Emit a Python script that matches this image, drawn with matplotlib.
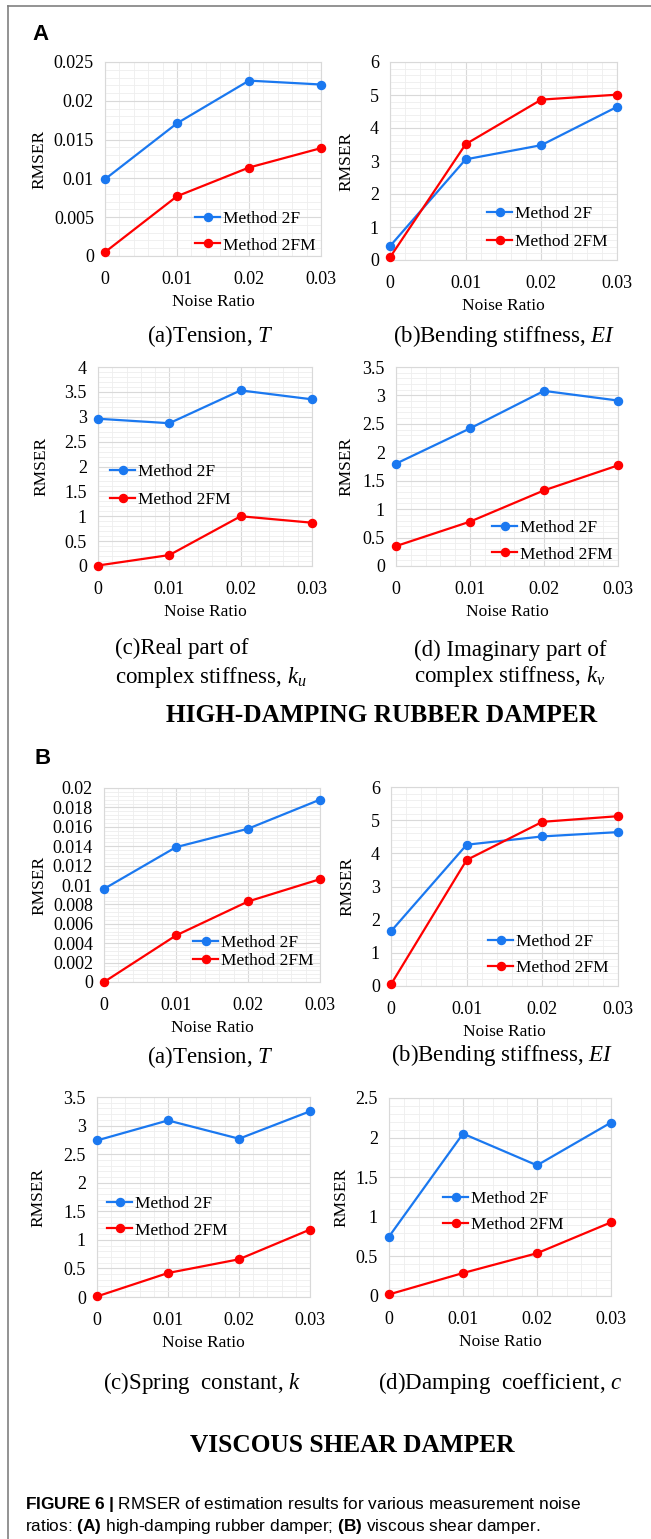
import matplotlib
matplotlib.use('Agg')
import matplotlib.pyplot as plt
from matplotlib import font_manager
from matplotlib.ticker import MultipleLocator, AutoMinorLocator, FuncFormatter
from matplotlib.lines import Line2D

noise_ratio = [0, 0.01, 0.02, 0.03]
series_labels = ['Method 2F', 'Method 2FM']

# (A) high-damping rubber damper
hd_tension_2f = [0.0099, 0.0171, 0.0226, 0.0221]
hd_tension_2fm = [0.0005, 0.0077, 0.0114, 0.0139]
hd_bending_2f = [0.42, 3.05, 3.48, 4.64]
hd_bending_2fm = [0.08, 3.51, 4.86, 5.01]
hd_real_2f = [2.96, 2.87, 3.53, 3.35]
hd_real_2fm = [0.01, 0.22, 1.00, 0.87]
hd_imag_2f = [1.80, 2.42, 3.08, 2.91]
hd_imag_2fm = [0.35, 0.78, 1.33, 1.77]

# (B) viscous shear damper
vs_tension_2f = [0.0096, 0.0139, 0.0158, 0.0188]
vs_tension_2fm = [0.0, 0.0048, 0.0083, 0.0106]
vs_bending_2f = [1.65, 4.26, 4.51, 4.64]
vs_bending_2fm = [0.05, 3.80, 4.95, 5.12]
vs_spring_2f = [2.74, 3.09, 2.77, 3.25]
vs_spring_2fm = [0.01, 0.42, 0.66, 1.18]
vs_damping_2f = [0.75, 2.05, 1.65, 2.19]
vs_damping_2fm = [0.02, 0.29, 0.54, 0.93]

installed = {f.name for f in font_manager.fontManager.ttflist}
cap_font = 'Liberation Sans Narrow' if 'Liberation Sans Narrow' in installed else 'Liberation Sans'

plt.rcParams['font.family'] = 'Liberation Serif'
plt.rcParams['mathtext.fontset'] = 'custom'
plt.rcParams['mathtext.rm'] = 'Liberation Serif'
plt.rcParams['mathtext.it'] = 'Liberation Serif:italic'
plt.rcParams['mathtext.bf'] = cap_font + ':bold'

W, H = 651, 1539
fig = plt.figure(figsize=(W / 100, H / 100), dpi=100)

BLUE = '#1A78F0'
RED = '#FF0000'

# data, ymax, ystep, box (l, t, r, b) px, ylabel x px, legend (x, y, spacing)
panels = [
    (hd_tension_2f, hd_tension_2fm, 0.025, 0.005, (105, 62, 321, 256), 39, (195, 232, 0.62)),
    (hd_bending_2f, hd_bending_2fm, 6, 1, (390, 62, 617, 260), 346, (487, 228, 0.66)),
    (hd_real_2f, hd_real_2fm, 4, 0.5, (98, 367, 312, 566), 41, (110, 486, 0.64)),
    (hd_imag_2f, hd_imag_2fm, 3.5, 0.5, (396, 367, 618, 566), 346, (492, 541, 0.62)),
    (vs_tension_2f, vs_tension_2fm, 0.02, 0.002, (104, 788, 320, 982), 39, (193, 952, 0.12)),
    (vs_bending_2f, vs_bending_2fm, 6, 1, (391, 787, 618, 986), 347, (488, 955, 0.58)),
    (vs_spring_2f, vs_spring_2fm, 3.5, 0.5, (97, 1097, 310, 1297), 38, (107, 1217, 0.62)),
    (vs_damping_2f, vs_damping_2fm, 2.5, 0.5, (389, 1098, 611, 1296), 341, (443, 1212, 0.6)),
]

fmt = FuncFormatter(lambda v, p: f'{v:g}')

for y2f, y2fm, ymax, ystep, (l, t, r, b), ylx, (lx, ly, lsp) in panels:
    ax = fig.add_axes([l / W, 1 - b / H, (r - l) / W, (b - t) / H])
    ax.plot(noise_ratio, y2f, '-o', color=BLUE, lw=1.6, ms=5.8, label=series_labels[0], clip_on=False, zorder=4)
    ax.plot(noise_ratio, y2fm, '-o', color=RED, lw=1.6, ms=5.8, label=series_labels[1], clip_on=False, zorder=4)
    ax.set_xlim(0, 0.03)
    ax.set_ylim(0, ymax)
    ax.xaxis.set_major_locator(MultipleLocator(0.01))
    ax.yaxis.set_major_locator(MultipleLocator(ystep))
    ax.xaxis.set_minor_locator(AutoMinorLocator(5))
    ax.yaxis.set_minor_locator(AutoMinorLocator(5))
    ax.xaxis.set_major_formatter(fmt)
    ax.yaxis.set_major_formatter(fmt)
    ax.grid(which='major', color='#D9D9D9', lw=0.8)
    ax.grid(which='minor', color='#EEEEEE', lw=0.6)
    ax.set_axisbelow(True)
    ax.tick_params(which='both', length=0, labelsize=13)
    ax.tick_params(axis='x', pad=11)
    ax.tick_params(axis='y', pad=8)
    for s in ax.spines.values():
        s.set_color('#D9D9D9')
        s.set_linewidth(0.8)
    ax.set_xlabel('Noise Ratio', fontsize=12.5)
    ax.xaxis.set_label_coords(0.5, -46 / (b - t))
    ax.xaxis.label.set_va('center')
    ax.set_ylabel('RMSER', fontsize=12.5)
    ax.yaxis.set_label_coords((ylx - l) / (r - l), 0.5)
    ax.yaxis.label.set_va('center')
    ax.legend(loc='center left', bbox_to_anchor=(lx / W, 1 - ly / H), bbox_transform=fig.transFigure,
              frameon=False, fontsize=12.5, borderpad=0, borderaxespad=0, handlelength=1.45,
              handletextpad=0.15, labelspacing=lsp)

captions = [
    ('(a)Tension, $T$', 210, 336, 'center'),
    ('(b)Bending stiffness, $EI$', 504, 336, 'center'),
    ('(c)Real part of', 115, 648, 'left'),
    ('complex stiffness, $k_u$', 115, 678, 'left'),
    ('(d) Imaginary part of', 414, 650, 'left'),
    ('complex stiffness, $k_v$', 414, 677, 'left'),
    ('(a)Tension, $T$', 210, 1057, 'center'),
    ('(b)Bending stiffness, $EI$', 502, 1055, 'center'),
    ('(c)Spring  constant, $k$', 202, 1383, 'center'),
    ('(d)Damping  coefficient, $c$', 500, 1383, 'center'),
]
for txt, x, y, ha in captions:
    fig.text(x / W, 1 - y / H, txt, fontsize=16.5, ha=ha, va='center')

fig.text(382 / W, 1 - 716 / H, 'HIGH-DAMPING RUBBER DAMPER', fontsize=18.3, fontweight='bold', ha='center', va='center')
fig.text(352 / W, 1 - 1445 / H, 'VISCOUS SHEAR DAMPER', fontsize=18.3, fontweight='bold', ha='center', va='center')

fig.text(32 / W, 1 - 34 / H, 'A', family='Liberation Sans', fontweight='bold', fontsize=16, va='center')
fig.text(34 / W, 1 - 759 / H, 'B', family='Liberation Sans', fontweight='bold', fontsize=16, va='center')

fig.text(25 / W, 1 - 1505 / H, r'$\bf{FIGURE\ 6\ |}$ RMSER of estimation results for various measurement noise',
         family=cap_font, fontsize=12.4, va='center')
fig.text(25 / W, 1 - 1527 / H, r'ratios: $\bf{(A)}$ high-damping rubber damper; $\bf{(B)}$ viscous shear damper.',
         family=cap_font, fontsize=12.4, va='center')

# outer frame (left and top edges)
fig.add_artist(Line2D([8 / W, 8 / W], [0, 1 - 6 / H], color='#808080', lw=1.2))
fig.add_artist(Line2D([8 / W, 1], [1 - 6 / H, 1 - 6 / H], color='#808080', lw=1.2))

fig.savefig('out.png', dpi=100, facecolor='white')
